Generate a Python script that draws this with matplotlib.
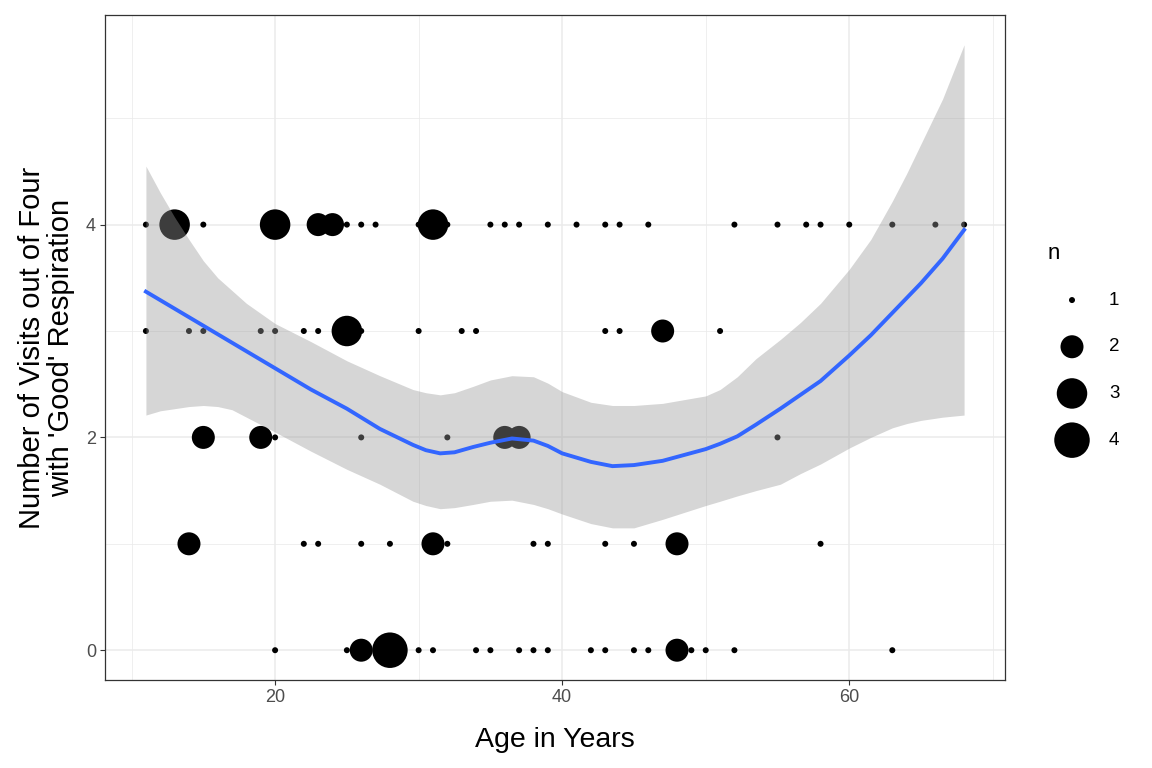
import matplotlib
matplotlib.use("Agg")
import matplotlib.pyplot as plt
import numpy as np

plt.rcParams['font.family'] = ['Liberation Sans', 'DejaVu Sans']

#--------data--------------------------------#
# age (years), visits with good respiration (0-4), count n at that spot
age_4 = [11, 13, 15, 20, 23, 24, 25, 26, 27, 30, 31, 32, 35, 36, 37, 39, 41, 43, 44, 46, 52, 55, 57, 58, 60, 63, 66, 68]
n_4 = [1, 3, 1, 3, 2, 2, 1, 1, 1, 1, 3, 1, 1, 1, 1, 1, 1, 1, 1, 1, 1, 1, 1, 1, 1, 1, 1, 1]
age_3 = [11, 14, 15, 19, 20, 22, 23, 25, 26, 30, 33, 34, 43, 44, 47, 51]
n_3 = [1, 1, 1, 1, 1, 1, 1, 3, 1, 1, 1, 1, 1, 1, 2, 1]
age_2 = [15, 19, 20, 26, 32, 36, 37, 55]
n_2 = [2, 2, 1, 1, 1, 2, 2, 1]
age_1 = [14, 22, 23, 26, 28, 31, 32, 38, 39, 43, 45, 48, 58]
n_1 = [2, 1, 1, 1, 1, 2, 1, 1, 1, 1, 1, 2, 1]
age_0 = [20, 25, 26, 28, 30, 31, 34, 35, 37, 38, 39, 42, 43, 45, 46, 48, 49, 50, 52, 63]
n_0 = [1, 1, 2, 4, 1, 1, 1, 1, 1, 1, 1, 1, 1, 1, 1, 2, 1, 1, 1, 1]

# loess fit and its confidence band
smooth_age = [11, 12, 13, 14, 15, 16, 17, 18, 20, 22.5, 25, 27.3, 29.6, 30.5, 31.5, 32.5, 33.8, 35,
              36.5, 38, 39, 40, 42, 43.5, 45, 47, 50, 51, 52.2, 53.5, 55.2, 56.6, 58, 60, 61.5, 63,
              64, 65, 66.5, 68]
smooth_fit = [3.37, 3.29, 3.21, 3.13, 3.05, 2.97, 2.89, 2.81, 2.65, 2.45, 2.27, 2.08, 1.93, 1.88, 1.85,
              1.86, 1.91, 1.95, 1.99, 1.97, 1.92, 1.85, 1.77, 1.73, 1.74, 1.78, 1.89, 1.94, 2.01, 2.12,
              2.27, 2.40, 2.53, 2.77, 2.96, 3.17, 3.31, 3.45, 3.68, 3.95]
smooth_hi = [4.55, 4.30, 4.07, 3.86, 3.66, 3.50, 3.38, 3.26, 3.07, 2.90, 2.72, 2.58, 2.45, 2.42, 2.40,
             2.42, 2.48, 2.54, 2.58, 2.57, 2.51, 2.43, 2.33, 2.30, 2.30, 2.32, 2.39, 2.45, 2.57, 2.74,
             2.92, 3.08, 3.26, 3.58, 3.86, 4.22, 4.48, 4.76, 5.18, 5.69]
smooth_lo = [2.21, 2.25, 2.27, 2.29, 2.30, 2.29, 2.26, 2.19, 2.05, 1.87, 1.70, 1.56, 1.40, 1.36, 1.33,
             1.34, 1.37, 1.40, 1.41, 1.37, 1.33, 1.28, 1.19, 1.15, 1.15, 1.23, 1.36, 1.40, 1.45, 1.50,
             1.56, 1.66, 1.75, 1.90, 2.00, 2.09, 2.13, 2.16, 2.19, 2.21]

legend_n = [1, 2, 3, 4]
#--------end of data----------------#

DPI = 100
diam_px = {1: 6, 2: 23, 3: 30.5, 4: 35.5}   # point diameter per count

def sizes(ns):
    return [(diam_px[k] * 72 / DPI) ** 2 for k in ns]

fig = plt.figure(figsize=(11.52, 7.68), dpi=DPI)
ax = fig.add_axes([105/1152, 1-680/768, 900/1152, 665/768])

ages = age_4 + age_3 + age_2 + age_1 + age_0
good = [4]*len(age_4) + [3]*len(age_3) + [2]*len(age_2) + [1]*len(age_1) + [0]*len(age_0)
ns = n_4 + n_3 + n_2 + n_1 + n_0
ax.scatter(ages, good, s=sizes(ns), c='black', linewidths=0, zorder=2)

ax.fill_between(smooth_age, smooth_lo, smooth_hi, color='#999999', alpha=0.4, linewidth=0, zorder=3)
ax.plot(smooth_age, smooth_fit, color='#3366FF', lw=2.8, zorder=4, solid_joinstyle='round')

ax.set_xlim(8.15, 70.85)
ax.set_ylim(-0.28, 5.97)
ax.set_xticks([20, 40, 60])
ax.set_xticks([10, 30, 50, 70], minor=True)
ax.set_yticks([0, 2, 4])
ax.set_yticks([1, 3, 5], minor=True)
ax.grid(True, which='major', color='#EBEBEB', lw=1.1, zorder=0)
ax.grid(True, which='minor', color='#EBEBEB', lw=0.55, zorder=0)
ax.set_axisbelow(True)
ax.tick_params(which='major', length=3.5, width=0.8, color='#333333', labelcolor='#4D4D4D',
               labelsize=13, pad=3)
ax.tick_params(which='minor', length=0)
for sp in ax.spines.values():
    sp.set_color('#333333')
    sp.set_linewidth(0.9)

ax.set_xlabel('Age in Years', fontsize=20.5, labelpad=15)
ax.set_ylabel("Number of Visits out of Four\nwith 'Good' Respiration", fontsize=21, labelpad=8,
              linespacing=1.05)

# size legend
lax = fig.add_axes([1040/1152, 1-463.5/768, 100/1152, 233.5/768])
lax.set_xlim(0, 100)
lax.set_ylim(4.5, -0.5)
lax.axis('off')
lax.scatter([32]*len(legend_n), legend_n, s=sizes(legend_n), c='black', linewidths=0)
for k in legend_n:
    lax.text(69, k, str(k), fontsize=13.5, color='black', va='center', ha='left')
lax.text(8, 0, 'n', fontsize=16, va='center', ha='left')

fig.savefig('out.png', dpi=DPI)
